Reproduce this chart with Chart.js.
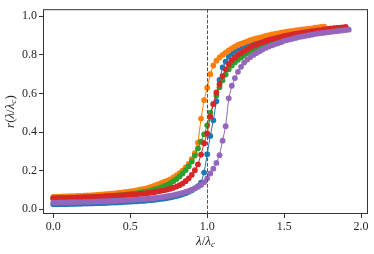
<!DOCTYPE html>
<html>
<head>
<meta charset="utf-8">
<script src="https://cdn.jsdelivr.net/npm/chart.js@4/dist/chart.umd.min.js"></script>
<style>
  html, body { margin: 0; padding: 0; background: #fff; }
  #chart { display: block; }
</style>
</head>
<body>
<canvas id="chart" width="374" height="254"></canvas>
<script>
// lambda / lambda_c sample positions
const lambdaRatio = [
  0.00, 0.02, 0.04, 0.06, 0.08, 0.10, 0.12, 0.14, 0.16, 0.18,
  0.20, 0.22, 0.24, 0.26, 0.28, 0.30, 0.32, 0.34, 0.36, 0.38,
  0.40, 0.42, 0.44, 0.46, 0.48, 0.50, 0.52, 0.54, 0.56, 0.58,
  0.60, 0.62, 0.64, 0.66, 0.68, 0.70, 0.72, 0.74, 0.76, 0.78,
  0.80, 0.82, 0.84, 0.86, 0.88, 0.90, 0.92, 0.94, 0.96, 0.98,
  1.00, 1.02, 1.04, 1.06, 1.08, 1.10, 1.12, 1.14, 1.16, 1.18,
  1.20, 1.22, 1.24, 1.26, 1.28, 1.30, 1.32, 1.34, 1.36, 1.38,
  1.40, 1.42, 1.44, 1.46, 1.48, 1.50, 1.52, 1.54, 1.56, 1.58,
  1.60, 1.62, 1.64, 1.66, 1.68, 1.70, 1.72, 1.74, 1.76, 1.78,
  1.80, 1.82, 1.84, 1.86, 1.88, 1.90, 1.92
];

const blueR = [
  .025, .025, .026, .026, .026, .027, .027, .027, .028, .028,
  .029, .029, .030, .030, .031, .031, .032, .032, .033, .034,
  .034, .035, .036, .037, .038, .039, .040, .041, .042, .043,
  .044, .046, .047, .049, .051, .053, .055, .058, .061, .064,
  .068, .072, .077, .083, .090, .098, .108, .120, .137, .190,
  .285, .380, .461, .560, .670, .735, .765, .790, .807, .820,
  .832, .841, .849, .856, .862, .868, .873, .878, .883, .887,
  .891, .894, .897, .900, .903, .906, .909, .911, .913, .916,
  .918, .920, .922, .924, .926, .928, .930, .931, .933, .934,
  .936, .937, .938, .939, .940, .941
];

const orangeR = [
  .064, .065, .065, .066, .066, .067, .067, .068, .069, .069,
  .070, .071, .072, .073, .074, .075, .076, .078, .079, .081,
  .082, .084, .086, .088, .090, .092, .095, .098, .101, .104,
  .107, .112, .117, .123, .129, .135, .141, .148, .155, .165,
  .175, .187, .200, .217, .235, .260, .290, .345, .470, .565,
  .630, .700, .745, .770, .787, .800, .812, .823, .834, .843,
  .852, .858, .864, .870, .876, .882, .886, .890, .894, .898,
  .903, .906, .909, .912, .915, .918, .920, .923, .925, .928,
  .930, .932, .934, .936, .938, .941, .943, .945, .947
];

const greenR = [
  .054, .054, .055, .055, .056, .056, .057, .057, .058, .059,
  .059, .060, .061, .062, .063, .064, .065, .066, .067, .068,
  .069, .071, .072, .074, .076, .078, .080, .082, .085, .088,
  .091, .094, .098, .102, .107, .113, .119, .126, .135, .145,
  .156, .170, .185, .203, .223, .247, .278, .315, .350, .388,
  .435, .500, .545, .590, .632, .668, .698, .725, .745, .761,
  .775, .787, .799, .810, .820, .830, .837, .843, .850, .856,
  .862, .867, .871, .876, .880, .884, .887, .891, .894, .897,
  .900, .903, .905, .908, .910, .913, .915, .917, .920, .922,
  .924, .926, .928, .929, .931, .933
];

const redR = [
  .057, .057, .058, .058, .059, .059, .060, .060, .061, .061,
  .062, .062, .063, .064, .064, .065, .066, .067, .068, .069,
  .070, .071, .072, .073, .074, .075, .076, .077, .079, .080,
  .082, .084, .086, .089, .092, .095, .098, .102, .106, .111,
  .117, .124, .133, .145, .160, .178, .202, .232, .283, .342,
  .393, .480, .545, .605, .648, .690, .725, .752, .772, .787,
  .800, .810, .820, .829, .839, .848, .854, .860, .866, .872,
  .878, .882, .886, .890, .894, .898, .901, .904, .907, .910,
  .913, .915, .918, .920, .923, .925, .927, .929, .932, .934,
  .936, .938, .940, .941, .943, .945
];

const purpleR = [
  .034, .034, .035, .035, .035, .036, .036, .036, .037, .037,
  .038, .038, .039, .039, .040, .040, .041, .041, .042, .043,
  .043, .044, .045, .046, .047, .048, .049, .050, .051, .052,
  .053, .055, .056, .058, .060, .062, .064, .067, .070, .073,
  .077, .081, .085, .090, .095, .101, .108, .116, .126, .140,
  .160, .185, .210, .240, .280, .355, .430, .575, .640, .680,
  .712, .738, .760, .776, .789, .800, .810, .819, .828, .836,
  .843, .849, .855, .860, .866, .873, .877, .881, .885, .889,
  .893, .896, .899, .902, .905, .908, .911, .913, .915, .917,
  .919, .921, .923, .925, .927, .929, .931
];

const seriesValues = [blueR, orangeR, greenR, redR, purpleR];
const seriesColors = ['#1f77b4', '#ff7f0e', '#2ca02c', '#d62728', '#9467bd'];
const xTicks = [0, 0.5, 1.0, 1.5, 2.0];
const yTicks = [0, 0.2, 0.4, 0.6, 0.8, 1.0];
const criticalRatio = 1.0;

const serif = "'Liberation Serif', 'DejaVu Serif', serif";
const textColor = '#262626';

// draws a label made of pieces (italic / subscript)
function drawRich(ctx, pieces, size) {
    let total = 0;
    const widths = pieces.map(p => {
        const s = p.sub ? size * 0.7 : size;
        ctx.font = (p.it ? 'italic ' : '') + s + 'px ' + serif;
        const w = ctx.measureText(p.t).width;
        total += w;
        return w;
    });
    let x = -total / 2;
    pieces.forEach((p, i) => {
        const s = p.sub ? size * 0.7 : size;
        ctx.font = (p.it ? 'italic ' : '') + s + 'px ' + serif;
        ctx.fillText(p.t, x, p.sub ? size * 0.22 : 0);
        x += widths[i];
    });
}

const framePlugin = {
    id: 'frame',
    afterDatasetsDraw(chart) {
        const { ctx, chartArea: a, scales } = chart;
        const xc = scales.x.getPixelForValue(criticalRatio);
        ctx.save();
        ctx.strokeStyle = '#555';
        ctx.lineWidth = 1;
        ctx.setLineDash([3.7, 1.6]);
        ctx.beginPath();
        ctx.moveTo(Math.round(xc) + 0.5, a.top);
        ctx.lineTo(Math.round(xc) + 0.5, a.bottom);
        ctx.stroke();
        ctx.setLineDash([]);
        ctx.strokeStyle = '#333';
        ctx.strokeRect(a.left + 0.5, a.top + 0.5, a.right - a.left - 1, a.bottom - a.top - 1);
        ctx.restore();
    },
    afterDraw(chart) {
        const { ctx, chartArea: a } = chart;
        ctx.save();
        ctx.fillStyle = textColor;
        ctx.textBaseline = 'middle';
        ctx.textAlign = 'left';
        ctx.translate((a.left + a.right) / 2, 242);
        drawRich(ctx, [{ t: 'λ', it: true }, { t: '/' }, { t: 'λ', it: true }, { t: 'c', it: true, sub: true }], 13);
        ctx.restore();

        ctx.save();
        ctx.fillStyle = textColor;
        ctx.textBaseline = 'middle';
        ctx.textAlign = 'left';
        ctx.translate(11, (a.top + a.bottom) / 2);
        ctx.rotate(-Math.PI / 2);
        drawRich(ctx, [{ t: 'r', it: true }, { t: '(' }, { t: 'λ', it: true }, { t: '/' },
            { t: 'λ', it: true }, { t: 'c', it: true, sub: true }, { t: ')' }], 13);
        ctx.restore();
    }
};

const datasets = seriesValues.map((vals, i) => ({
    data: vals.map((v, j) => ({ x: lambdaRatio[j], y: v })),
    borderColor: seriesColors[i],
    backgroundColor: seriesColors[i],
    borderWidth: 1,
    pointRadius: 2.9,
    pointBorderWidth: 0,
    pointBackgroundColor: seriesColors[i],
    order: seriesValues.length - 1 - i,
    tension: 0
}));

new Chart(document.getElementById('chart'), {
    type: 'line',
    data: { datasets: datasets },
    options: {
        responsive: false,
        animation: false,
        devicePixelRatio: 1,
        layout: { padding: { top: 5, right: 6, left: 0, bottom: 0 } },
        plugins: { legend: { display: false }, tooltip: { enabled: false } },
        scales: {
            x: {
                type: 'linear',
                min: -0.067,
                max: 2.045,
                afterBuildTicks: s => { s.ticks = xTicks.map(v => ({ value: v })); },
                afterFit: s => { s.height = 40; },
                grid: { drawOnChartArea: false, drawTicks: true, tickLength: 4, color: '#333' },
                border: { display: false },
                ticks: {
                    padding: 2,
                    color: textColor,
                    font: { family: serif, size: 12 },
                    maxRotation: 0,
                    callback: v => v.toFixed(1)
                }
            },
            y: {
                type: 'linear',
                min: -0.025,
                max: 1.037,
                afterBuildTicks: s => { s.ticks = yTicks.map(v => ({ value: v })); },
                afterFit: s => { s.width = 43; },
                grid: { drawOnChartArea: false, drawTicks: true, tickLength: 4, color: '#333' },
                border: { display: false },
                ticks: {
                    padding: 2,
                    color: textColor,
                    font: { family: serif, size: 12 },
                    callback: v => v.toFixed(1)
                }
            }
        }
    },
    plugins: [framePlugin]
});
</script>
</body>
</html>
